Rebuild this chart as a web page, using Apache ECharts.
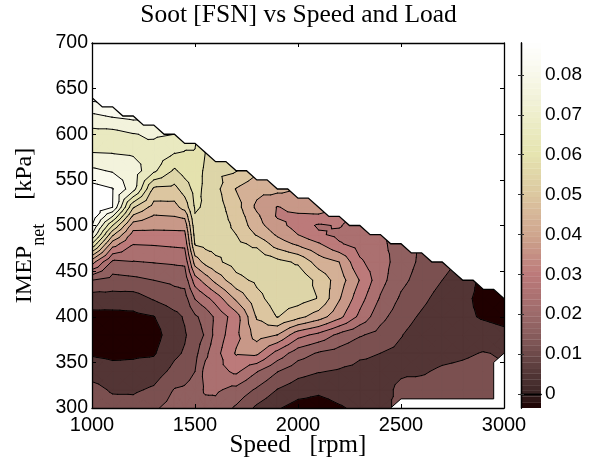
<!DOCTYPE html>
<html><head><meta charset="utf-8">
<style>html,body{margin:0;padding:0;background:#fff}#c{width:594px;height:462px}</style>
<script src="https://cdn.jsdelivr.net/npm/echarts@6/dist/echarts.min.js"></script>
</head><body><div id="c"></div>
<script>
const speeds=[1000,1100,1200,1300,1400,1450,1500,1550,1600,1700,1800,1900,2000,2100,2200,2300,2400,2500,2600,2700,2800,2900,3000];
const loads=[300,320,340,360,380,400,420,440,460,480,490,500,510,520,540,560,580,600,620,640];
const soot_300=[.0138,.012,.0114,.0141,.0174,.0186,.0195,.0186,.0192,.0141,.0078,.0036,.0006,.0003,.0024,.0042,.0054,.012,.012,.012,.012,.012,.0096];
const soot_320=[.0114,.0081,.0081,.0099,.0153,.0159,.0174,.0219,.0219,.0192,.0141,.0088,.0057,.0042,.0054,.0063,.0075,.0099,.0111,.0114,.0114,.012,.009];
const soot_340=[.006,.0048,.0048,.006,.0108,.0123,.015,.0231,.0246,.0282,.0213,.0152,.0111,.0093,.0084,.0075,.0075,.0084,.0084,.0099,.0105,.0114,.0087];
const soot_360=[.0024,.0018,.0021,.0024,.0078,.0096,.0132,.0195,.0249,.0336,.0342,.0249,.0177,.0144,.0126,.0099,.009,.0075,.006,.0072,.0081,.0093,.0084];
const soot_380=[0,-.0003,0,.0006,.0066,.0084,.012,.0156,.0231,.0315,.0417,.0389,.0291,.0252,.0195,.0156,.0129,.0093,.006,.0054,.006,.0057,.0045];
const soot_400=[.0012,.0009,.0015,.0028,.0072,.0096,.0141,.0171,.0222,.0303,.0456,.0513,.0468,.042,.0348,.0255,.0168,.0117,.0081,.0048,.0042,.0024,.0012];
const soot_420=[.006,.0066,.0063,.0096,.0126,.0126,.0213,.0252,.0294,.0402,.0492,.054,.0537,.0507,.0396,.0294,.0204,.0141,.0105,.0066,.0045,.0012,.0003];
const soot_440=[.015,.0126,.0135,.015,.0162,.0171,.03,.0354,.0408,.0492,.0522,.0546,.0555,.0492,.042,.0327,.0231,.0165,.0126,.009,.006,.0015,.0003];
const soot_460=[.0354,.0198,.0207,.0213,.0219,.0222,.0417,.0468,.0498,.0534,.0552,.0528,.0501,.0423,.039,.0279,.0237,.018,.0138,.0114,.0072,.0018,.0006];
const soot_480=[.063,.036,.0273,.0276,.0282,.0285,.0516,.0528,.0531,.0522,.0498,.042,.0378,.0336,.0276,.0246,.0222,.0186,.0141,.0126,.0078,.0018,.0006];
const soot_490=[.075,.0462,.0306,.0312,.0315,.0315,.0534,.0537,.0537,.051,.0444,.0381,.033,.0279,.0255,.024,.0216,.0186,.0141,.0126,.0078,.0018,.0006];
const soot_500=[.081,.057,.036,.0348,.0348,.0351,.0549,.0546,.0543,.0498,.0414,.0351,.0306,.0261,.0276,.0234,.0213,.0186,.0144,.0126,.0078,.0018,.0006];
const soot_510=[.0846,.069,.0438,.0384,.039,.0402,.0567,.0555,.0543,.0486,.0402,.0324,.0321,.0324,.0312,.0228,.021,.0186,.0144,.0126,.0078,.0018,.0006];
const soot_520=[.0852,.081,.0516,.0426,.0429,.0474,.0576,.0564,.054,.0474,.0378,.0327,.0348,.0348,.033,.0228,.021,.0186,.0144,.0126,.0078,.0018,.0006];
const soot_540=[.0834,.0813,.0714,.0498,.0492,.0537,.0591,.0558,.0528,.0447,.0408,.0408,.039,.0378,.036,.0228,.021,.0186,.0144,.0126,.0078,.0018,.0006];
const soot_560=[.0762,.0744,.0723,.0642,.0561,.0594,.0606,.0558,.0522,.0513,.0462,.045,.0402,.039,.036,.0228,.021,.0186,.0144,.0126,.0078,.0018,.0006];
const soot_580=[.069,.0687,.0681,.0666,.0633,.0627,.0627,.057,.0522,.0522,.048,.045,.0402,.039,.036,.0228,.021,.0186,.0144,.0126,.0078,.0018,.0006];
const soot_600=[.0666,.0666,.0687,.0699,.069,.066,.0642,.0582,.0522,.0522,.048,.045,.0402,.039,.036,.0228,.021,.0186,.0144,.0126,.0078,.0018,.0006];
const soot_620=[.0738,.0756,.0768,.075,.0726,.069,.066,.0588,.0522,.0522,.048,.045,.0402,.039,.036,.0228,.021,.0186,.0144,.0126,.0078,.0018,.0006];
const soot_640=[.0828,.0828,.081,.078,.075,.072,.066,.0588,.0522,.0522,.048,.045,.0402,.039,.036,.0228,.021,.0186,.0144,.0126,.0078,.0018,.0006];
const sootRows=[soot_300,soot_320,soot_340,soot_360,soot_380,soot_400,soot_420,soot_440,soot_460,soot_480,soot_490,soot_500,soot_510,soot_520,soot_540,soot_560,soot_580,soot_600,soot_620,soot_640];

const contourLevels=[.003,.009,.015,.021,.027,.033,.039,.045,.051,.057,.063,.069,.075,.081];
const bandColors=['#200000','#533535','#7b5050','#906060','#ab7070','#bc7a7a','#c89888','#d4b096','#dcc6a0','#ddd5a8','#e4e2ae','#e9e9c0','#f3f3dc','#fafaee','#ffffff'];

const edgeSpeeds=[1000,1050,1100,1150,1200,1250,1300,1350,1400,1450,1500,1550,1600,1650,1700,1750,1800,1850,1900,1950,2000,2050,2100,2150,2200,2250,2300,2350,2400,2450,2500,2550,2600,2650,2700,2750,2800,2850,2900,2950,3000];
const edgeLoads=[640,630,630,620,620,610,610,600,600,590,590,580,570,570,560,560,550,550,540,540,530,530,520,510,510,500,500,490,490,480,480,470,470,460,460,450,440,440,430,430,420];
const gapSpeeds=[2450,2500,2950,2950,3000];
const gapLoads=[300,310,310,350,360];

const barStops=[-.0035,0,.005,.01,.015,.02,.025,.03,.035,.04,.045,.05,.055,.06,.065,.07,.075,.08,.088];
const barColors=['#1a0000','#3a2424','#523636','#6e4a4a','#8a5e5e','#9c6a6a','#ad7272','#bc7a7a','#c59084','#cfa68e','#d6b698','#dcc8a0','#e0d6a8','#e6e4b0','#e9e9be','#eeeecc','#f3f3dc','#f8f8ea','#ffffff'];
const barTicks=[0,.01,.02,.03,.04,.05,.06,.07,.08];
const speedTicks=[1000,1500,2000,2500,3000];
const loadTicks=[300,350,400,450,500,550,600,650,700];

function clipAbove(poly,lim,sign){
  const out=[];
  for(let i=0;i<poly.length;i++){
    const a=poly[i],b=poly[(i+1)%poly.length];
    const ia=sign*(a[2]-lim)>=0,ib=sign*(b[2]-lim)>=0;
    if(ia)out.push(a);
    if(ia!==ib){const t=(lim-a[2])/(b[2]-a[2]);out.push([a[0]+t*(b[0]-a[0]),a[1]+t*(b[1]-a[1]),lim]);}
  }
  return out;
}
const allTris=[];
for(let j=0;j<loads.length-1;j++)for(let i=0;i<speeds.length-1;i++){
  const a=[speeds[i],loads[j],sootRows[j][i]],b=[speeds[i+1],loads[j],sootRows[j][i+1]],
        c=[speeds[i+1],loads[j+1],sootRows[j+1][i+1]],d=[speeds[i],loads[j+1],sootRows[j+1][i]];
  const m=[(a[0]+b[0])/2,(a[1]+d[1])/2,(a[2]+b[2]+c[2]+d[2])/4];
  allTris.push([a,b,m],[b,c,m],[c,d,m],[d,a,m]);
}
const bandItems=bandColors.map((c,k)=>[1000,300,k]);

function polyPath(api,pts){
  const f=n=>n.toFixed(2);
  return pts.map((q,i)=>{const c=api.coord([q[0],q[1]]);return (i?'L':'M')+f(c[0])+' '+f(c[1]);}).join('')+'Z';
}
function pathOf(api,d,style){
  return {type:'path',shape:{pathData:d},style:style,silent:true};
}
function renderFill(params,api){
  const k=api.value(2),col=bandColors[k];
  let d='';
  for(const tri of allTris){
    const p=k>0?clipAbove(tri,contourLevels[k-1],1):tri;
    if(p.length>2)d+=polyPath(api,p);
  }
  return d?pathOf(api,d,{fill:col,stroke:col,lineWidth:.8}):null;
}
function renderLines(params,api){
  let d='';
  for(const tri of allTris){
    for(const L of contourLevels){
      const pts=[];
      for(let e=0;e<3;e++){
        const a=tri[e],b=tri[(e+1)%3];
        if((a[2]<L)!==(b[2]<L)){const t=(L-a[2])/(b[2]-a[2]);pts.push(api.coord([a[0]+t*(b[0]-a[0]),a[1]+t*(b[1]-a[1])]));}
      }
      if(pts.length===2)d+='M'+pts[0][0].toFixed(2)+' '+pts[0][1].toFixed(2)+'L'+pts[1][0].toFixed(2)+' '+pts[1][1].toFixed(2);
    }
  }
  return pathOf(api,d,{fill:null,stroke:'#000',lineWidth:1,lineCap:'round',lineJoin:'round'});
}
function renderMask(params,api){
  const top=edgeSpeeds.map((s,k)=>api.coord([s,edgeLoads[k]]));
  const gap=gapSpeeds.map((s,k)=>api.coord([s,gapLoads[k]]));
  return {type:'group',children:[
    {type:'polygon',shape:{points:top.concat([api.coord([3000,700]),api.coord([1000,700])])},style:{fill:'#fff'},silent:true},
    {type:'polyline',shape:{points:top},style:{fill:null,stroke:'#000',lineWidth:1.3},silent:true},
    {type:'polygon',shape:{points:gap.concat([api.coord([3000,300])])},style:{fill:'#fff'},silent:true},
    {type:'polyline',shape:{points:gap},style:{fill:null,stroke:'#000',lineWidth:1},silent:true}
  ]};
}
function hex(c){return [1,3,5].map(k=>parseInt(c.substr(k,2),16));}
function barColor(v){
  let k=0;while(k<barStops.length-2&&v>barStops[k+1])k++;
  const t=(v-barStops[k])/(barStops[k+1]-barStops[k]),a=hex(barColors[k]),b=hex(barColors[k+1]);
  return 'rgb('+a.map((x,n)=>Math.round(x+t*(b[n]-x))).join(',')+')';
}
const barSteps=[];
{const lo=barStops[0],hi=barStops[barStops.length-1];for(let k=0;k<64;k++)barSteps.push([0,lo+(hi-lo)*k/64,lo+(hi-lo)*(k+1)/64]);}
function renderBar(params,api){
  const a=api.coord([0,api.value(1)]),b=api.coord([1,api.value(2)]);
  const col=barColor((api.value(1)+api.value(2))/2);
  return {type:'rect',shape:{x:a[0],y:b[1],width:b[0]-a[0],height:a[1]-b[1]},style:{fill:col,stroke:col,lineWidth:.3},silent:true};
}
const sans='"Liberation Sans"',serif='"Liberation Serif"';
const lineS={show:true,lineStyle:{color:'#000',width:1.3}};
const chart=echarts.init(document.getElementById('c'),null,{renderer:'canvas'});
chart.setOption({
  animation:false,backgroundColor:'#fff',
  title:{text:'Soot [FSN] vs Speed and Load',left:293.5,top:-3,textAlign:'center',textStyle:{fontFamily:serif,fontSize:25.5,fontWeight:'normal',color:'#000'}},
  grid:[{left:92,top:43,width:412,height:365,outerBoundsMode:'none'},{left:521,top:43,width:20,height:365,outerBoundsMode:'none'}],
  xAxis:[
    {type:'value',gridIndex:0,min:1000,max:3000,interval:500,position:'bottom',z:10,
     name:'Speed   [rpm]',nameLocation:'middle',nameGap:25,nameMoveOverlap:false,nameTextStyle:{fontFamily:serif,fontSize:25,color:'#000'},
     axisLine:lineS,axisTick:{show:true,inside:true,length:4,lineStyle:{color:'#000',width:1}},
     axisLabel:{fontFamily:sans,fontSize:20,color:'#000',margin:7,customValues:speedTicks,formatter:v=>String(v),hideOverlap:false},splitLine:{show:false}},
    {type:'value',gridIndex:0,min:1000,max:3000,interval:500,position:'top',z:10,
     axisLine:lineS,axisTick:{show:true,inside:true,length:4,lineStyle:{color:'#000',width:1}},axisLabel:{show:false},splitLine:{show:false}},
    {type:'value',gridIndex:1,min:0,max:1,position:'bottom',z:10,axisLine:lineS,axisTick:{show:false},axisLabel:{show:false},splitLine:{show:false}},
    {type:'value',gridIndex:1,min:0,max:1,position:'top',z:10,axisLine:lineS,axisTick:{show:false},axisLabel:{show:false},splitLine:{show:false}}
  ],
  yAxis:[
    {type:'value',gridIndex:0,min:300,max:700,interval:50,position:'left',z:10,
     name:'IMEP{sub|net}    [kPa]',nameLocation:'middle',nameGap:44,nameMoveOverlap:false,
     nameTextStyle:{fontFamily:serif,fontSize:24,color:'#000',rich:{sub:{fontFamily:serif,fontSize:18,padding:[28,0,0,0]}}},
     axisLine:lineS,axisTick:{show:true,inside:true,length:4,lineStyle:{color:'#000',width:1}},
     axisLabel:{fontFamily:sans,fontSize:19.5,color:'#000',margin:4,customValues:loadTicks},splitLine:{show:false}},
    {type:'value',gridIndex:0,min:300,max:700,interval:50,position:'right',z:10,
     axisLine:lineS,axisTick:{show:true,inside:true,length:4,lineStyle:{color:'#000',width:1}},axisLabel:{show:false},splitLine:{show:false}},
    {type:'value',gridIndex:1,min:-.0035,max:.088,position:'right',z:10,
     axisLine:lineS,axisTick:{show:true,inside:true,length:3,customValues:barTicks,lineStyle:{color:'#333',width:1}},
     axisLabel:{fontFamily:sans,fontSize:19,color:'#000',margin:4,customValues:barTicks,formatter:v=>String(v)},splitLine:{show:false}},
    {type:'value',gridIndex:1,min:-.0035,max:.088,position:'left',z:10,
     axisLine:lineS,axisTick:{show:true,inside:true,length:3,customValues:barTicks,lineStyle:{color:'#333',width:1}},axisLabel:{show:false},splitLine:{show:false}}
  ],
  series:[
    {type:'custom',xAxisIndex:0,yAxisIndex:0,data:bandItems,encode:{x:0,y:1},renderItem:renderFill,clip:true,z:2,silent:true,progressive:0},
    {type:'custom',xAxisIndex:0,yAxisIndex:0,data:[[1000,300]],encode:{x:0,y:1},renderItem:renderLines,clip:true,z:3,silent:true},
    {type:'custom',xAxisIndex:0,yAxisIndex:0,data:[[1000,300]],encode:{x:0,y:1},renderItem:renderMask,clip:true,z:4,silent:true},
    {type:'custom',xAxisIndex:2,yAxisIndex:2,data:barSteps,encode:{x:0,y:[1,2]},renderItem:renderBar,clip:true,z:2,silent:true,progressive:0}
  ]
});
</script></body></html>
